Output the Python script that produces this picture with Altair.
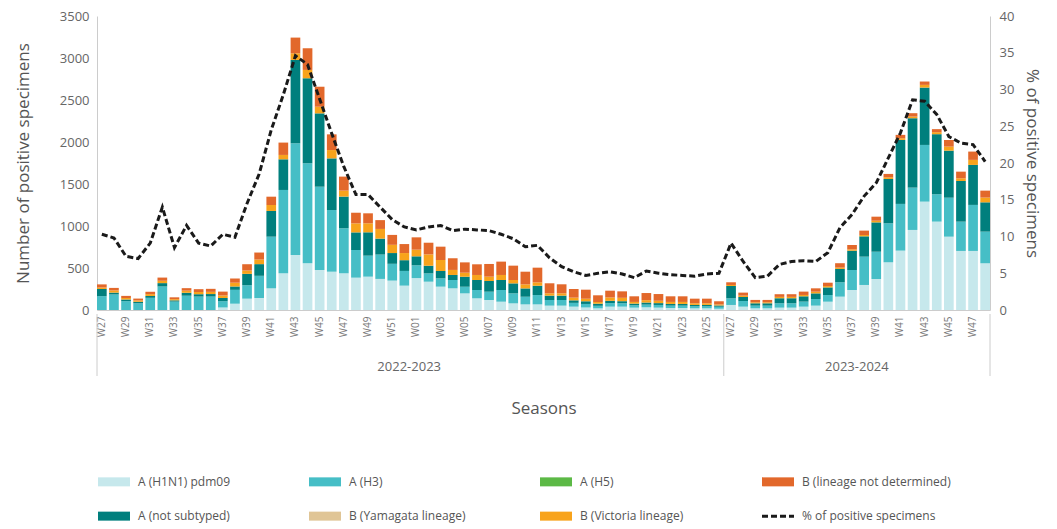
import altair as alt
import pandas as pd

# ---------------- data ----------------
seasons = ["2022-2023", "2023-2024"]
weeks_s1 = ["W27", "W28", "W29", "W30", "W31", "W32", "W33", "W34", "W35", "W36", "W37", "W38", "W39",
            "W40", "W41", "W42", "W43", "W44", "W45", "W46", "W47", "W48", "W49", "W50", "W51", "W52",
            "W01", "W02", "W03", "W04", "W05", "W06", "W07", "W08", "W09", "W10", "W11", "W12", "W13",
            "W14", "W15", "W16", "W17", "W18", "W19", "W20", "W21", "W22", "W23", "W24", "W25", "W26"]
weeks_s2 = ["W27", "W28", "W29", "W30", "W31", "W32", "W33", "W34", "W35", "W36", "W37", "W38", "W39",
            "W40", "W41", "W42", "W43", "W44", "W45", "W46", "W47", "W48"]

h1n1 = [0, 0, 0, 0, 0, 0, 0, 0, 0, 0, 30, 75, 135, 143, 258, 437, 655, 556, 476, 456, 437, 385, 397, 370, 350, 290,
        380, 337, 278, 258, 198, 139, 119, 99, 79, 67, 67, 52, 52, 40, 30, 20, 40, 40, 28, 32, 28, 24, 24, 20, 20, 15,
        60, 40, 20, 20, 28, 28, 40, 52, 99, 159, 238, 298, 369, 568, 707, 953, 1290, 1052, 873, 703, 703, 556]
h3 = [165, 185, 105, 80, 145, 280, 100, 170, 160, 160, 75, 165, 160, 264, 615, 992, 1330, 1191, 992, 734, 536, 329, 250, 290, 200, 175,
      152, 99, 99, 99, 79, 99, 99, 139, 119, 91, 111, 67, 67, 45, 42, 30, 42, 40, 28, 32, 32, 28, 28, 24, 24, 24,
      79, 67, 32, 32, 52, 52, 60, 79, 79, 171, 238, 337, 325, 464, 556, 504, 675, 326, 464, 349, 548, 377]
not_subtyped = [85, 22, 20, 18, 22, 40, 15, 35, 28, 30, 38, 40, 135, 139, 306, 365, 992, 1012, 873, 615, 377, 210, 278, 190, 128, 128,
                107, 91, 87, 60, 119, 119, 127, 119, 119, 99, 111, 52, 52, 30, 32, 25, 27, 25, 20, 25, 22, 20, 20, 16, 16, 15,
                147, 48, 28, 28, 60, 60, 63, 67, 91, 159, 230, 242, 349, 528, 762, 826, 683, 715, 560, 484, 476, 349]
b_victoria = [18, 26, 18, 16, 22, 28, 14, 25, 26, 26, 30, 45, 40, 55, 71, 52, 79, 99, 79, 99, 71, 107, 107, 115, 98, 85,
              79, 135, 131, 60, 48, 60, 52, 60, 40, 48, 40, 28, 28, 32, 30, 20, 40, 40, 20, 28, 28, 24, 24, 20, 20, 12,
              12, 16, 12, 12, 16, 16, 16, 20, 16, 16, 16, 16, 20, 20, 20, 20, 32, 24, 48, 32, 60, 56]
b_not_determined = [37, 30, 25, 22, 28, 38, 22, 30, 34, 36, 46, 50, 75, 83, 99, 147, 187, 258, 238, 187, 167, 127, 119, 105, 118, 107,
                    147, 139, 159, 139, 123, 127, 151, 159, 171, 151, 175, 119, 107, 103, 108, 80, 81, 77, 67, 85, 80, 67, 67, 55, 55, 38,
                    32, 36, 28, 28, 32, 32, 40, 40, 40, 52, 52, 52, 48, 40, 40, 40, 40, 36, 79, 79, 99, 83]
pct_positive = [10.3, 9.8, 7.3, 7.0, 9.1, 14.0, 8.5, 11.5, 9.1, 8.7, 10.3, 9.9, 14.5, 18.5, 24.5, 29.3, 34.6, 33.4, 28.7, 24.0, 19.5, 15.7, 15.7, 14.0, 12.3, 11.3,
                10.9, 11.3, 11.5, 10.8, 11.0, 10.9, 10.8, 10.3, 9.7, 8.6, 8.8, 7.1, 5.9, 5.2, 4.7, 5.0, 5.2, 4.9, 4.4, 5.3, 5.0, 4.8, 4.7, 4.6, 4.9, 5.0,
                9.1, 6.6, 4.4, 4.6, 6.2, 6.6, 6.7, 6.6, 7.8, 11.2, 13.0, 15.5, 17.3, 20.7, 24.1, 28.6, 28.4, 26.6, 23.6, 22.7, 22.5, 20.2]

type_names = ["A (H1N1) pdm09", "A (H3)", "A (H5)", "B (lineage not determined)",
              "A (not subtyped)", "B (Yamagata lineage)", "B (Victoria lineage)"]
type_colors = ["#c6e8ec", "#46bec6", "#5cb946", "#e2682b", "#007f7d", "#e0c596", "#f8a31b"]
line_label = "% of positive specimens"

# ---------------- tables ----------------
keys = [f"{seasons[0]} {w}" for w in weeks_s1] + [f"{seasons[1]} {w}" for w in weeks_s2]
stack_series = [("A (H1N1) pdm09", h1n1), ("A (H3)", h3), ("A (not subtyped)", not_subtyped),
                ("B (Victoria lineage)", b_victoria), ("B (lineage not determined)", b_not_determined)]
rows = []
for order, (name, vals) in enumerate(stack_series):
    for k, v in zip(keys, vals):
        rows.append({"key": k, "type": name, "value": v, "ord": order})
bars_df = pd.DataFrame(rows)
line_df = pd.DataFrame({"key": keys, "pct": pct_positive})

n1, n2 = len(weeks_s1), len(weeks_s2)
season_df = pd.DataFrame({"season": seasons, "key": [keys[n1 // 2 - 1], keys[n1 + n2 // 2 - 1]]})
sep_end_df = pd.DataFrame({"key": [keys[n1 - 1], keys[n1 + n2 - 1]]})
sep_start_df = pd.DataFrame({"key": [keys[0]]})

W, H = 893, 294
FONT = "Open Sans"

x_scale = alt.Scale(domain=keys, paddingInner=0.2, paddingOuter=0)
x_axis = alt.Axis(title="Seasons", titleFontSize=17, titleFontWeight="normal", titleColor="#555",
                  titlePadding=64, labelAngle=270, labelFontSize=10, labelColor="#777",
                  labelPadding=6, ticks=False, domainColor="#cccccc",
                  labelExpr="parseInt(substring(datum.label, length(datum.label) - 2)) % 2 == 1 ? "
                            "substring(datum.label, length(datum.label) - 3) : ''")


def xenc(bp=None):
    if bp is None:
        return alt.X("key:N", sort=None, scale=x_scale, axis=x_axis)
    return alt.X("key:N", sort=None, scale=x_scale, axis=x_axis, bandPosition=bp)


bars = alt.Chart(bars_df).mark_bar().encode(
    x=xenc(),
    y=alt.Y("value:Q", stack="zero", scale=alt.Scale(domain=[0, 3500], nice=False),
            axis=alt.Axis(title="Number of positive specimens", values=list(range(0, 3501, 500)), format="d",
                          titleFontSize=17, titleFontWeight="normal", titleColor="#555", titlePadding=27,
                          labelFontSize=13, labelColor="#666", ticks=False, grid=False,
                          domainColor="#cccccc", labelPadding=8)),
    color=alt.Color("type:N", scale=alt.Scale(domain=type_names, range=type_colors), legend=None),
    order=alt.Order("ord:Q", sort="ascending"),
)

line = alt.Chart(line_df).mark_line(color="#1a1a1a", strokeWidth=3, strokeDash=[6, 3]).encode(
    x=xenc(),
    y=alt.Y("pct:Q", scale=alt.Scale(domain=[0, 40], nice=False),
            axis=alt.Axis(orient="right", title=line_label, values=list(range(0, 41, 5)),
                          titleFontSize=17, titleFontWeight="normal", titleColor="#555", titlePadding=9,
                          labelFontSize=13, labelColor="#666", ticks=False, grid=False,
                          domainColor="#cccccc", labelPadding=9)),
)

season_text = alt.Chart(season_df).mark_text(fontSize=13, color="#666", baseline="middle", font=FONT).encode(
    x=xenc(1),
    y=alt.value(H + 57),
    text="season:N",
)
sep_end = alt.Chart(sep_end_df).mark_rule(color="#cccccc", strokeWidth=1).encode(
    x=xenc(1),
    y=alt.value(H + 4), y2=alt.value(H + 66),
)
sep_start = alt.Chart(sep_start_df).mark_rule(color="#cccccc", strokeWidth=1).encode(
    x=xenc(0),
    y=alt.value(H + 4), y2=alt.value(H + 66),
)

top = alt.layer(bars, line, season_text, sep_end, sep_start).resolve_scale(y="independent").properties(
    width=W, height=H)

# ---------------- legend panel ----------------
legend_items = type_names + [line_label]
legend_rows = [0, 0, 0, 0, 1, 1, 1, 1]
legend_col_px = [1, 212, 443, 665]
leg_df = pd.DataFrame({
    "label": legend_items,
    "row": legend_rows,
    "lx": [legend_col_px[i % 4] for i in range(len(legend_items))],
})
leg_df["lx2"] = leg_df["lx"] + 32
leg_df["is_line"] = leg_df["label"] == line_label

lx = alt.X("lx:Q", scale=alt.Scale(domain=[0, W], nice=False, zero=False), axis=None)
ly = alt.Y("row:Q", scale=alt.Scale(domain=[-0.2, 1.2], reverse=True, nice=False, zero=False), axis=None)

leg_sw = alt.Chart(leg_df).transform_filter("!datum.is_line").mark_rule(strokeWidth=9).encode(
    x=lx, x2="lx2:Q", y=ly,
    color=alt.Color("label:N", scale=alt.Scale(domain=type_names, range=type_colors), legend=None),
)
leg_line = alt.Chart(leg_df).transform_filter("datum.is_line").mark_rule(
    strokeWidth=3, strokeDash=[6, 3], color="#1a1a1a").encode(x=lx, x2="lx2:Q", y=ly)
leg_text = alt.Chart(leg_df).mark_text(align="left", baseline="middle", dx=40, fontSize=12,
                                       color="#555", font=FONT).encode(x=lx, y=ly, text="label:N")

legend_panel = alt.layer(leg_sw, leg_line, leg_text).properties(width=W, height=48)

chart = alt.vconcat(top, legend_panel, spacing=58).properties(
    padding={"left": 6, "top": 2, "right": 4, "bottom": 0}
).configure(font=FONT).configure_view(stroke=None)

chart.save("out.html", embed_options={"renderer": "svg", "actions": False})
